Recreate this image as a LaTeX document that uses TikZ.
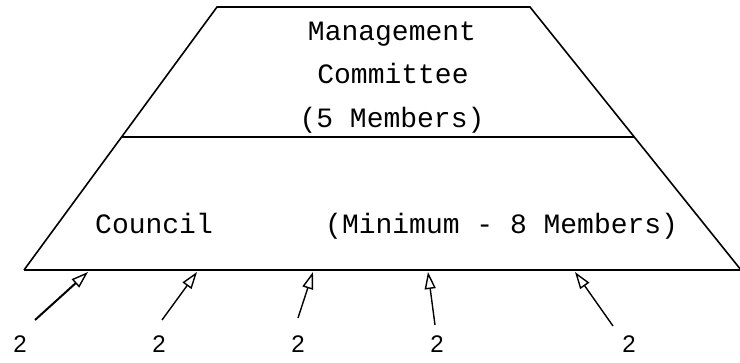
\documentclass[tikz,border=0pt]{standalone}
\usepackage{fontspec}
\newfontfamily\typewr{Liberation Mono}
\newfontfamily\digitf{Liberation Sans}
\usetikzlibrary{arrows.meta}
\tikzset{
  edge/.style={line width=1.6pt, black},
  txt/.style={font=\typewr\fontsize{28}{30}\selectfont, inner sep=0pt, anchor=base},
  num/.style={font=\digitf\fontsize{24}{26}\selectfont, inner sep=0pt, anchor=base},
  inarrow/.style={line width=1.4pt, -{Triangle[open, length=17pt, width=11pt, line width=1.4pt]}}
}
\begin{document}
\begin{tikzpicture}[x=1pt,y=-1pt]
\useasboundingbox (0,0) rectangle (740,362);
% corners
\coordinate (tl) at (217,7);
\coordinate (tr) at (530,7);
\coordinate (bl) at (24,270);
\coordinate (br) at (741,270);
\coordinate (ml) at (121,137);
\coordinate (mr) at (634,137);
\draw[edge] (bl) -- (tl) -- (tr) -- (br);
\draw[edge] (bl) -- (br);
\draw[edge] (ml) -- (mr);
% texts
\node[txt] (t1) at (392,40) {Management};
\node[txt] (t2) at (393,83) {Committee};
\node[txt] (t3) at (392,127) {(5 Members)};
\node[txt, anchor=base west] (c1) at (95,233) {Council};
\node[txt, anchor=base west] (c2) at (325,233) {(Minimum - 8 Members)};
% arrows
\coordinate (s1) at (35,320);  \coordinate (e1) at (88,272);
\coordinate (s2) at (162,320); \coordinate (e2) at (197,272);
\coordinate (s3) at (298,318); \coordinate (e3) at (313,272);
\coordinate (s4) at (435,325); \coordinate (e4) at (428,272);
\coordinate (s5) at (613,326); \coordinate (e5) at (575,272);
\draw[inarrow, line width=2pt] (s1) -- (e1);
\draw[inarrow] (s2) -- (e2);
\draw[inarrow] (s3) -- (e3);
\draw[inarrow] (s4) -- (e4);
\draw[inarrow] (s5) -- (e5);
% labels
\node[num] (n1) at (20,352) {2};
\node[num] (n2) at (159,352) {2};
\node[num] (n3) at (298,352) {2};
\node[num] (n4) at (437,352) {2};
\node[num] (n5) at (629,352) {2};
\end{tikzpicture}
\end{document}
